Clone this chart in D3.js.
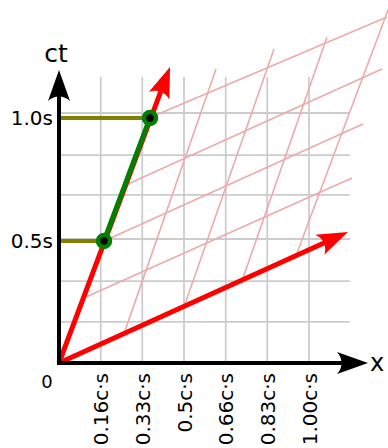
<!DOCTYPE html>
<html>
<head>
<meta charset="utf-8">
<script src="https://cdn.jsdelivr.net/npm/d3@7"></script>
<style>
  body { margin: 0; background: #fff; }
  svg { display: block; font-family: "DejaVu Sans", sans-serif; }
</style>
</head>
<body>
<div id="chart"></div>
<script>
// values (x in c·s, ct in s)
var xGrid = [0.167, 0.333, 0.5, 0.667, 0.833, 1.0];
var xTickLabels = ["0.16c·s", "0.33c·s", "0.5c·s", "0.66c·s", "0.83c·s", "1.00c·s"];
var ctGrid = [0.165, 0.329, 0.498, 0.675, 0.835, 1.004];
var ctTicks = [0.49, 0.985];
var ctTickLabels = ["0.5s", "1.0s"];

// events on the moving clock's worldline
var events = [
    {x: 0.18, ct: 0.49},
    {x: 0.364, ct: 0.984}
];

// primed axes (arrow tips)
var ctPrimeTip = {x: 0.444, ct: 1.189};
var xPrimeTip = {x: 1.156, ct: 0.526};

// primed grid: lines parallel to ct' (start on x') and parallel to x' (start on ct')
var steepLines = [
    {x1: 0.264, t1: 0.129, x2: 0.628, t2: 1.181},
    {x1: 0.504, t1: 0.237, x2: 0.860, t2: 1.261},
    {x1: 0.736, t1: 0.341, x2: 1.072, t2: 1.309},
    {x1: 0.952, t1: 0.442, x2: 1.316, t2: 1.418}
];
var shallowLines = [
    {x1: 0.108, t1: 0.265, x2: 1.172, t2: 0.743},
    {x1: 0.180, t1: 0.490, x2: 1.216, t2: 0.960},
    {x1: 0.276, t1: 0.719, x2: 1.292, t2: 1.181},
    {x1: 0.360, t1: 0.984, x2: 1.312, t2: 1.390}
];

var gridMaxX = 1.164, gridMaxCt = 1.149;
var axisMaxX = 1.236, axisMaxCt = 1.177;

var width = 388, height = 448;

var x = d3.scaleLinear().domain([0, 1]).range([59, 309]);
var y = d3.scaleLinear().domain([0, 1]).range([363, 114]);

var svg = d3.select("#chart")
    .append("svg")
    .attr("width", width)
    .attr("height", height);

// arrowhead markers
var defs = svg.append("defs");
function addMarker(id, color) {
    defs.append("marker")
        .attr("id", id)
        .attr("viewBox", "0 0 31 22")
        .attr("markerWidth", 31)
        .attr("markerHeight", 22)
        .attr("markerUnits", "userSpaceOnUse")
        .attr("refX", 7)
        .attr("refY", 11)
        .attr("orient", "auto")
        .style("overflow", "visible")
        .append("path")
        .attr("d", "M31,11 L0,0 C6,6 6,16 0,22 Z")
        .attr("fill", color);
}
addMarker("head-red", "#ff0000");
addMarker("head-black", "#000000");

// line from (x0,t0) to tip, shortened so the head's notch sits at the end
function arrowTo(g, x0, t0, tip, color, sw, marker) {
    var ax = x(x0), ay = y(t0), bx = x(tip.x), by = y(tip.ct);
    var len = Math.sqrt((bx - ax) * (bx - ax) + (by - ay) * (by - ay));
    var k = (len - 24) / len;
    g.append("line")
        .attr("x1", ax).attr("y1", ay)
        .attr("x2", ax + (bx - ax) * k).attr("y2", ay + (by - ay) * k)
        .attr("stroke", color)
        .attr("stroke-width", sw)
        .attr("marker-end", "url(#" + marker + ")");
}

// rest-frame grid
var grid = svg.append("g").attr("class", "grid");
grid.selectAll(".vgrid")
    .data(xGrid)
    .enter().append("line")
    .attr("x1", function(d) { return x(d); })
    .attr("x2", function(d) { return x(d); })
    .attr("y1", y(0))
    .attr("y2", y(gridMaxCt))
    .attr("stroke", "#cccccc")
    .attr("stroke-width", 1.8);
grid.selectAll(".hgrid")
    .data(ctGrid)
    .enter().append("line")
    .attr("x1", x(0))
    .attr("x2", x(gridMaxX))
    .attr("y1", function(d) { return y(d); })
    .attr("y2", function(d) { return y(d); })
    .attr("stroke", "#cccccc")
    .attr("stroke-width", 1.8);

// moving-frame grid
var pgrid = svg.append("g").attr("class", "pgrid");
pgrid.selectAll("line")
    .data(steepLines.concat(shallowLines))
    .enter().append("line")
    .attr("x1", function(d) { return x(d.x1); })
    .attr("y1", function(d) { return y(d.t1); })
    .attr("x2", function(d) { return x(d.x2); })
    .attr("y2", function(d) { return y(d.t2); })
    .attr("stroke", "#eeaaaa")
    .attr("stroke-width", 1.6);

// primed axes
var prime = svg.append("g");
arrowTo(prime, 0, 0, ctPrimeTip, "#ff0000", 5, "head-red");
arrowTo(prime, 0, 0, xPrimeTip, "#ff0000", 5, "head-red");

// olive projections to the ct axis
svg.selectAll(".proj")
    .data(events)
    .enter().append("line")
    .attr("x1", x(0))
    .attr("x2", function(d) { return x(d.x); })
    .attr("y1", function(d) { return y(d.ct); })
    .attr("y2", function(d) { return y(d.ct); })
    .attr("stroke", "#808000")
    .attr("stroke-width", 4);

// worldline segment between the events
svg.append("line")
    .attr("x1", x(events[0].x)).attr("y1", y(events[0].ct))
    .attr("x2", x(events[1].x)).attr("y2", y(events[1].ct))
    .attr("stroke", "#008000")
    .attr("stroke-width", 5);

svg.selectAll(".event")
    .data(events)
    .enter().append("circle")
    .attr("cx", function(d) { return x(d.x); })
    .attr("cy", function(d) { return y(d.ct); })
    .attr("r", 6)
    .attr("fill", "#000")
    .attr("stroke", "#008000")
    .attr("stroke-width", 4.5);

// rest-frame axes with arrowheads
var axes = svg.append("g");
arrowTo(axes, -0.008, 0, {x: axisMaxX, ct: 0}, "#000", 4, "head-black");
arrowTo(axes, 0, -0.008, {x: 0, ct: axisMaxCt}, "#000", 4, "head-black");

// tick labels
var xAxis = svg.append("g")
    .attr("transform", "translate(0," + y(0) + ")")
    .call(d3.axisBottom(x)
        .tickValues(xGrid)
        .tickSize(0)
        .tickFormat(function(d, i) { return xTickLabels[i]; }));
xAxis.select(".domain").remove();
xAxis.selectAll("text")
    .style("font-family", "DejaVu Sans")
    .style("font-size", "20px")
    .attr("fill", "#000")
    .attr("text-anchor", "end")
    .attr("y", 0)
    .attr("x", -10)
    .attr("dy", "0.35em")
    .attr("transform", "rotate(-90)");

var yAxis = svg.append("g")
    .attr("transform", "translate(" + x(0) + ",0)")
    .call(d3.axisLeft(y)
        .tickValues(ctTicks)
        .tickSize(0)
        .tickPadding(6)
        .tickFormat(function(d, i) { return ctTickLabels[i]; }));
yAxis.select(".domain").remove();
yAxis.selectAll("text")
    .style("font-family", "DejaVu Sans")
    .style("font-size", "20px")
    .attr("fill", "#000");

// axis names and origin
svg.append("text")
    .attr("x", x(0) - 3)
    .attr("y", 62)
    .attr("text-anchor", "middle")
    .style("font-size", "25px")
    .text("ct");
svg.append("text")
    .attr("x", 370)
    .attr("y", 371)
    .style("font-size", "24px")
    .text("x");
svg.append("text")
    .attr("x", 47)
    .attr("y", 388)
    .attr("text-anchor", "middle")
    .style("font-size", "18px")
    .text("0");
</script>
</body>
</html>
